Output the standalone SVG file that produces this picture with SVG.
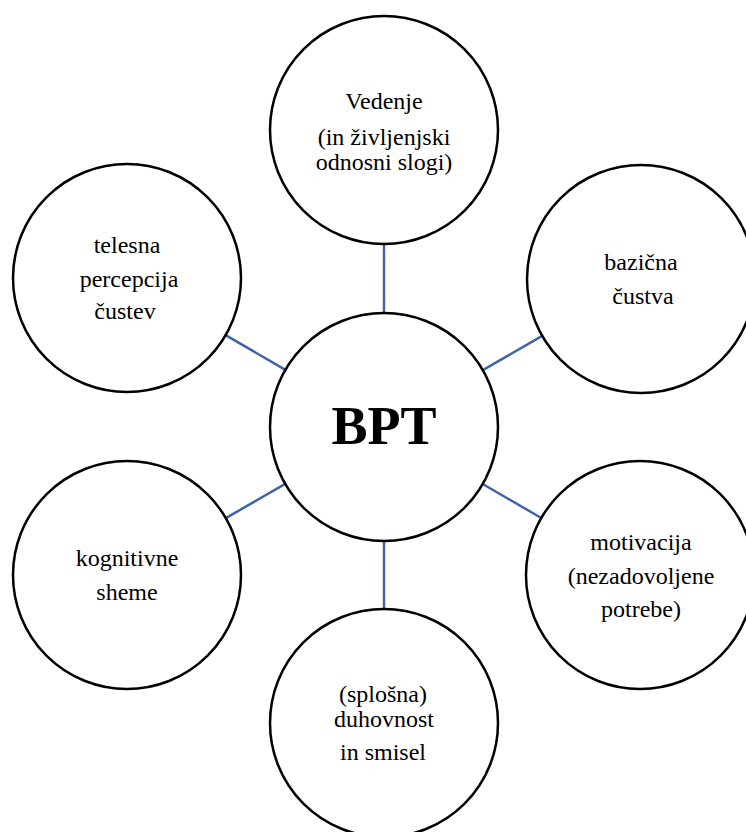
<svg xmlns="http://www.w3.org/2000/svg" width="746" height="832" viewBox="0 0 746 832">
<style>
.n{fill:#fff;stroke:#000;stroke-width:2.5}
.t{font-family:"Liberation Serif","Times New Roman",serif;font-size:24px;fill:#000;text-anchor:middle}
.b{font-family:"Liberation Serif","Times New Roman",serif;font-size:54px;font-weight:bold;fill:#000;text-anchor:middle}
.c{stroke:#3F64A8;stroke-width:2.5;fill:none}
</style>
<rect width="746" height="832" fill="#fff"/>
<g id="connectors">
<line class="c" x1="384" y1="244" x2="384" y2="313"/>
<line class="c" x1="285.4" y1="369.8" x2="225.6" y2="335.2"/>
<line class="c" x1="482.8" y1="370.1" x2="542.2" y2="335.9"/>
<line class="c" x1="285.2" y1="483.9" x2="225.8" y2="518.1"/>
<line class="c" x1="482.7" y1="484" x2="541.3" y2="518"/>
<line class="c" x1="384" y1="541" x2="384" y2="609"/>
</g>
<g id="bpt">
<circle class="n" cx="384" cy="427" r="114"/>
<text class="b" x="384" y="444">BPT</text>
</g>
<g id="vedenje">
<circle class="n" cx="384" cy="130" r="114"/>
<text class="t" x="384" y="109">Vedenje</text>
<text class="t" x="384" y="145">(in življenjski</text>
<text class="t" x="384" y="170">odnosni slogi)</text>
</g>
<g id="telesna">
<circle class="n" cx="127" cy="278" r="114"/>
<text class="t" x="127" y="253">telesna</text>
<text class="t" x="129" y="287">percepcija</text>
<text class="t" x="125" y="319">čustev</text>
</g>
<g id="bazicna">
<circle class="n" cx="641" cy="279" r="114"/>
<text class="t" x="641" y="270">bazična</text>
<text class="t" x="643" y="304">čustva</text>
</g>
<g id="kognitivne">
<circle class="n" cx="127" cy="575" r="114"/>
<text class="t" x="127" y="566">kognitivne</text>
<text class="t" x="127" y="600">sheme</text>
</g>
<g id="motivacija">
<circle class="n" cx="640" cy="575" r="114"/>
<text class="t" x="641" y="550">motivacija</text>
<text class="t" x="641" y="584">(nezadovoljene</text>
<text class="t" x="641" y="617">potrebe)</text>
</g>
<g id="duhovnost">
<circle class="n" cx="384" cy="723" r="114"/>
<text class="t" x="383" y="702">(splošna)</text>
<text class="t" x="384" y="727">duhovnost</text>
<text class="t" x="383" y="760">in smisel</text>
</g>
</svg>
